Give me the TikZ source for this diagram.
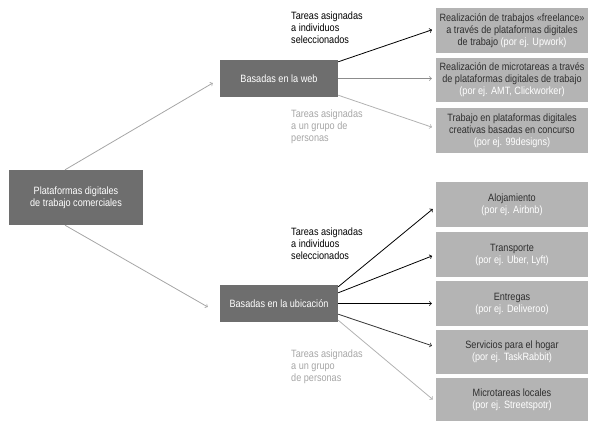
\documentclass[tikz,border=0pt]{standalone}
\usepackage{fontspec}
\setmainfont{Liberation Sans}[FakeStretch=0.86]
\definecolor{oscuro}{HTML}{6E6E6E}
\definecolor{claro}{HTML}{B4B4B4}
\definecolor{textoclaro}{HTML}{2E2E2E}
\begin{document}
\begin{tikzpicture}[x=1pt,y=-1pt,
		caja/.style={inner sep=0pt,align=center,font=\fontsize{10.6}{12}\selectfont},
		oscura/.style={caja,fill=oscuro,text=white},
		clara/.style={caja,fill=claro,text=textoclaro,minimum width=152pt,minimum height=44pt},
		etiqueta/.style={anchor=north west,inner sep=0pt,align=left,font=\fontsize{10.6}{12}\selectfont},
		flecha/.style={->,>=to,line width=0.8pt,shorten >=4pt}]
			\useasboundingbox (0,0) rectangle (590,421);
			\node [oscura,minimum width=134pt,minimum height=55pt] (plat) at (76,197.5) {Plataformas digitales\\de trabajo comerciales};
			\node [oscura,minimum width=118pt,minimum height=37pt] (web) at (279,78.5) {Basadas en la web};
			\node [oscura,minimum width=118pt,minimum height=37pt] (ubi) at (279,303.5) {Basadas en la ubicación};
			% plataformas basadas en la web
			\node [clara,minimum height=45pt] (r1) at (512,30.5) {Realización de trabajos «freelance»\\a través de plataformas digitales\\de trabajo \textcolor{white}{(por ej. Upwork)}};
			\node [clara] (r2) at (512,80) {Realización de microtareas a través\\de plataformas digitales de trabajo\\\textcolor{white}{(por ej. AMT, Clickworker)}};
			\node [clara,minimum height=45pt] (r3) at (512,130.5) {Trabajo en plataformas digitales\\creativas basadas en concurso\\\textcolor{white}{(por ej. 99designs)}};
			% plataformas basadas en la ubicacion
			\node [clara,minimum height=45pt] (r4) at (512,204.5) {Alojamiento\\\textcolor{white}{(por ej. Airbnb)}};
			\node [clara,minimum height=45pt] (r5) at (512,254.5) {Transporte\\\textcolor{white}{(por ej. Uber, Lyft)}};
			\node [clara,minimum height=45pt] (r6) at (512,303.5) {Entregas\\\textcolor{white}{(por ej. Deliveroo)}};
			\node [clara] (r7) at (512,352) {Servicios para el hogar\\\textcolor{white}{(por ej. TaskRabbit)}};
			\node [clara] (r8) at (512,400) {Microtareas locales\\\textcolor{white}{(por ej. Streetspotr)}};
			\node [etiqueta] (t1) at (291,12) {Tareas asignadas\\a individuos\\seleccionados};
			\node [etiqueta,text=black!35] (t2) at (291,110) {Tareas asignadas\\a un grupo de\\personas};
			\node [etiqueta] (t3) at (291,228) {Tareas asignadas\\a individuos\\seleccionados};
			\node [etiqueta,text=black!35] (t4) at (291,350) {Tareas asignadas\\a un grupo\\de personas};
			\draw [flecha,black!35,shorten >=0pt] ([xshift=-11pt]plat.north)--([xshift=-7pt,yshift=-4.5pt]web.west);
			\draw [flecha,black!35,shorten >=0pt] ([xshift=-11pt]plat.south)--([xshift=-12pt,yshift=-3.5pt]ubi.west);
			\draw [flecha] ([yshift=-2pt]web.north east)--([yshift=2pt]r1.west);
			\draw [flecha,black!45] (web.east)--(web.east -| r2.west);
			\draw [flecha,black!30] ([yshift=2pt]web.south east)--([yshift=2pt]r3.west);
			\draw [flecha] ([yshift=-2pt]ubi.north east)--([yshift=-2pt]r4.west);
			\draw [flecha] ([yshift=-8pt]ubi.north east)--(r5.west);
			\draw [flecha] (ubi.east)--(r6.west);
			\draw [flecha,black!80] ([yshift=8pt]ubi.south east)--([yshift=5pt]r7.west);
			\draw [flecha,black!30] ([yshift=2pt]ubi.south east)--([yshift=-2pt]r8.west);
		\end{tikzpicture}
\end{document}
